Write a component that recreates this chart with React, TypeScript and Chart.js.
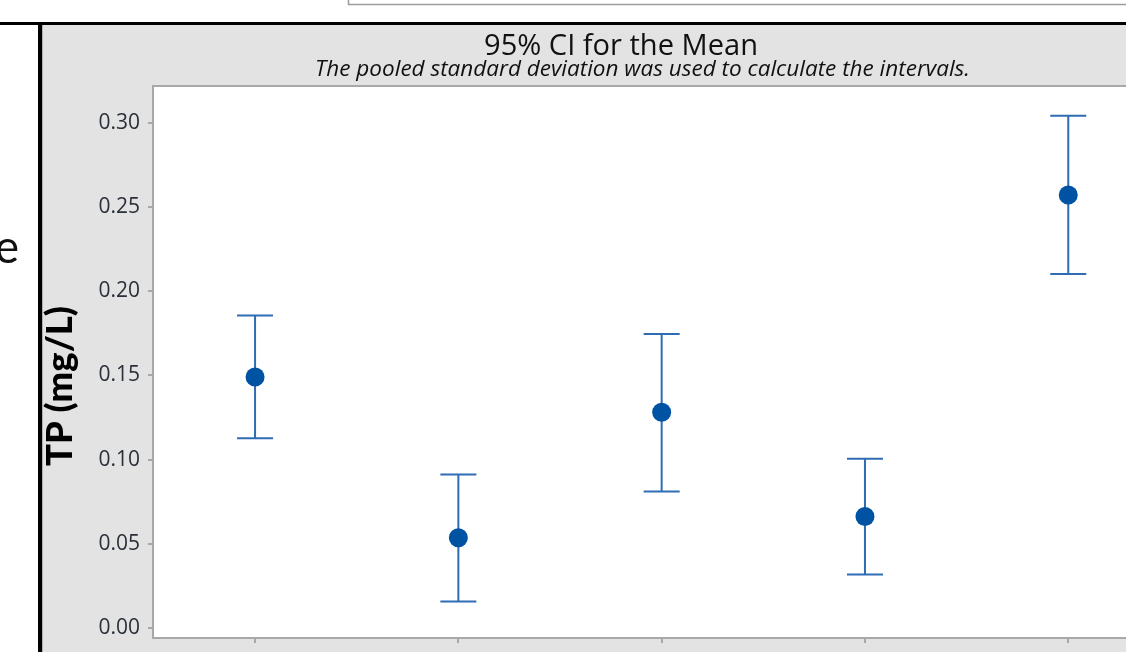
import React, { useEffect, useRef } from "react";
import { Chart, registerables } from "chart.js";

Chart.register(...registerables);

// ---- data ----
const groups = [1, 2, 3, 4, 5];
const means = [0.149, 0.0536, 0.1281, 0.0662, 0.2571];
const lowers = [0.1127, 0.0158, 0.0811, 0.0318, 0.2102];
const uppers = [0.1855, 0.0912, 0.1746, 0.1005, 0.3041];
const yTickValues = [0, 0.05, 0.1, 0.15, 0.2, 0.25, 0.3];
const titleText = "95% CI for the Mean";
const subtitleText = "The pooled standard deviation was used to calculate the intervals.";
const yTitleText = "TP (mg/L)";
const sideText = "e";

const W = 1126;
const H = 652;

function fitFont(
  ctx: CanvasRenderingContext2D,
  text: string,
  prefix: string,
  family: string,
  target: number
): string {
  ctx.font = `${prefix} 100px ${family}`;
  const w = ctx.measureText(text).width;
  const size = (100 * target) / w;
  return `${prefix} ${size.toFixed(2)}px ${family}`;
}

const decorPlugin = {
  id: "decor",
  beforeDraw(chart: any) {
    const ctx: CanvasRenderingContext2D = chart.ctx;
    const ca = chart.chartArea;
    ctx.save();
    ctx.fillStyle = "#ffffff";
    ctx.fillRect(0, 0, W, H);

    // top-right box remnant
    ctx.strokeStyle = "#9c9c9c";
    ctx.lineWidth = 1.5;
    ctx.strokeRect(348.5, -10, 900, 14.5);

    // black frame lines
    ctx.fillStyle = "#000000";
    ctx.fillRect(0, 22, W, 3);
    ctx.fillRect(38, 22, 4.5, H - 22);

    // gray panel
    ctx.fillStyle = "#e3e3e3";
    ctx.fillRect(42.5, 25, W - 42.5, H - 25);

    // white plot area
    ctx.fillStyle = "#ffffff";
    ctx.fillRect(ca.left, ca.top, W - ca.left, ca.bottom - ca.top);
    ctx.strokeStyle = "#a8a8a8";
    ctx.lineWidth = 2;
    ctx.beginPath();
    ctx.moveTo(ca.left - 1, ca.top - 1);
    ctx.lineTo(W, ca.top - 1);
    ctx.stroke();

    // side letter
    ctx.fillStyle = "#111111";
    ctx.font = "46px Lato";
    ctx.textAlign = "right";
    ctx.textBaseline = "alphabetic";
    ctx.fillText(sideText, 19, 263);

    // title
    ctx.textAlign = "center";
    ctx.fillStyle = "#111111";
    ctx.font = fitFont(ctx, titleText, "", "'Open Sans'", 274);
    ctx.fillText(titleText, 621, 55);
    ctx.font = fitFont(ctx, subtitleText, "italic", "'Open Sans'", 655);
    ctx.fillText(subtitleText, 642.5, 76);

    // y title
    ctx.save();
    ctx.translate(72, 386);
    ctx.rotate(-Math.PI / 2);
    ctx.font = fitFont(ctx, yTitleText, "900", "Lato", 160);
    ctx.fillStyle = "#000000";
    ctx.textAlign = "center";
    ctx.fillText(yTitleText, 0, 0);
    ctx.restore();

    ctx.restore();
  },
  beforeDatasetsDraw(chart: any) {
    const ctx: CanvasRenderingContext2D = chart.ctx;
    const xs = chart.scales.x;
    const ys = chart.scales.y;
    ctx.save();
    ctx.strokeStyle = "#2E6CB4";
    ctx.lineWidth = 2;
    const cap = 18;
    groups.forEach((g, i) => {
      const x = xs.getPixelForValue(g);
      const yl = ys.getPixelForValue(lowers[i]);
      const yu = ys.getPixelForValue(uppers[i]);
      ctx.beginPath();
      ctx.moveTo(x, yu);
      ctx.lineTo(x, yl);
      ctx.moveTo(x - cap, yu);
      ctx.lineTo(x + cap, yu);
      ctx.moveTo(x - cap, yl);
      ctx.lineTo(x + cap, yl);
      ctx.stroke();
    });
    ctx.restore();
  },
};

export default function App() {
  const ref = useRef<HTMLCanvasElement | null>(null);

  useEffect(() => {
    if (!ref.current) return;
    const chart = new Chart(ref.current, {
      type: "scatter",
      data: {
        datasets: [
          {
            data: groups.map((g, i) => ({ x: g, y: means[i] })),
            backgroundColor: "#0052A3",
            borderWidth: 0,
            pointRadius: 9.5,
            pointHoverRadius: 9.5,
          },
        ],
      },
      options: {
        animation: false,
        responsive: false,
        devicePixelRatio: 1,
        events: [],
        layout: { autoPadding: false, padding: { left: 43, top: 87, right: 0, bottom: 0 } },
        plugins: {
          legend: { display: false },
          tooltip: { enabled: false },
          title: { display: false },
        },
        scales: {
          x: {
            type: "linear",
            min: 0.498,
            max: 5.284,
            afterBuildTicks: (s: any) => {
              s.ticks = groups.map((v) => ({ value: v }));
            },
            afterFit: (s: any) => {
              s.height = 14;
              s.paddingLeft = 0;
              s.paddingRight = 0;
              s.paddingTop = 0;
              s.paddingBottom = 0;
            },
            ticks: { display: false },
            grid: {
              display: true,
              drawOnChartArea: false,
              drawTicks: true,
              tickLength: 5,
              color: "#a8a8a8",
              lineWidth: 2,
            },
            border: { display: true, color: "#a8a8a8", width: 2 },
          },
          y: {
            type: "linear",
            min: -0.0059,
            max: 0.3212,
            afterBuildTicks: (s: any) => {
              s.ticks = yTickValues.map((v) => ({ value: v }));
            },
            afterFit: (s: any) => {
              s.width = 110;
              s.paddingLeft = 0;
              s.paddingRight = 0;
              s.paddingTop = 0;
              s.paddingBottom = 0;
            },
            ticks: {
              padding: 8,
              color: "#2a303a",
              font: { family: "'Open Sans'", size: 21 },
              callback: (v: any) => Number(v).toFixed(2),
            },
            grid: {
              display: true,
              drawOnChartArea: false,
              drawTicks: true,
              tickLength: 5,
              color: "#a8a8a8",
              lineWidth: 2,
            },
            border: { display: true, color: "#a8a8a8", width: 2 },
          },
        },
      },
      plugins: [decorPlugin],
    } as any);
    return () => chart.destroy();
  }, []);

  return (
    <div
      style={{
        position: "fixed",
        left: 0,
        top: 0,
        width: W,
        height: H,
        overflow: "hidden",
        background: "#ffffff",
      }}
    >
      <canvas ref={ref} width={W} height={H} style={{ display: "block", width: W, height: H }} />
    </div>
  );
}
